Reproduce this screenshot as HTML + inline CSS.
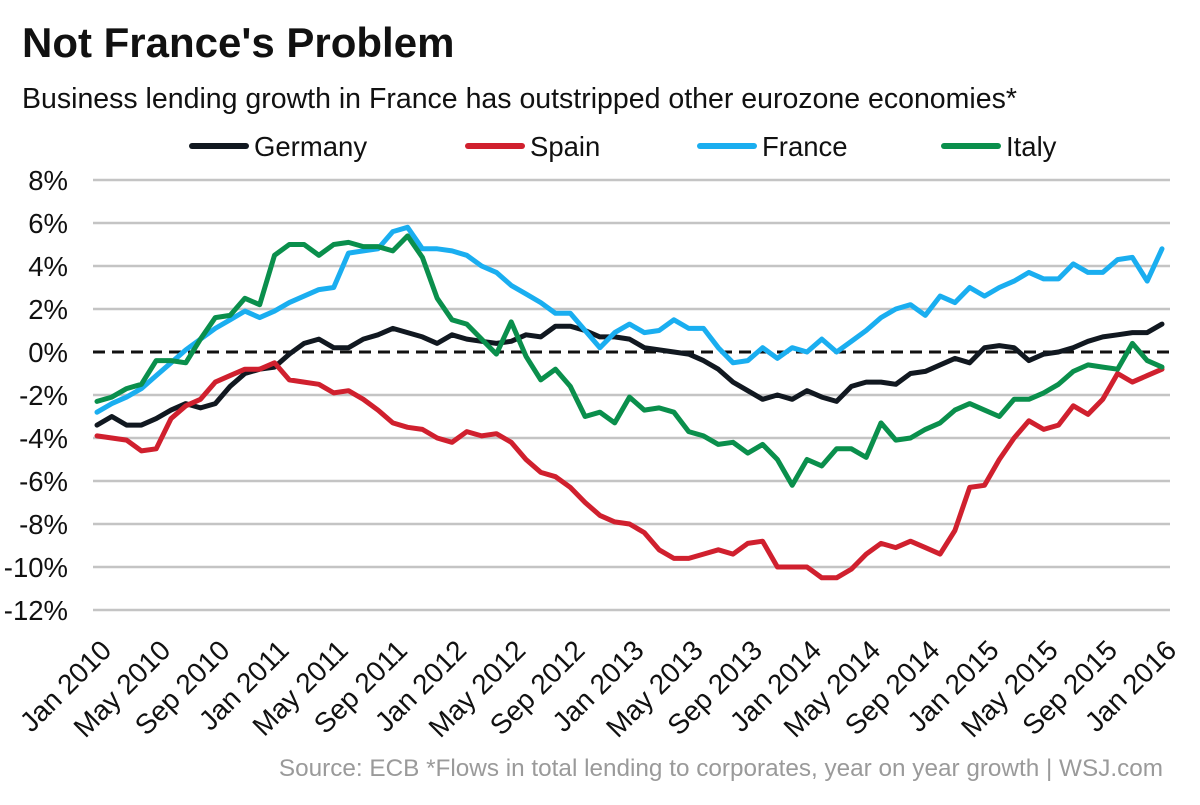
<!DOCTYPE html>
<html><head><meta charset="utf-8"><style>
body{margin:0;background:#fff;font-family:"Liberation Sans",Arial,sans-serif;}
</style></head><body>
<svg width="1200" height="800" xmlns="http://www.w3.org/2000/svg" font-family="Liberation Sans, Arial, sans-serif">
<text x="22" y="57" font-size="42" font-weight="bold" fill="#111">Not France's Problem</text>
<text x="22" y="108" font-size="28.5" fill="#111">Business lending growth in France has outstripped other eurozone economies*</text>
<g id="legend"></g>
<g id="grid"></g>
<g id="yticks"></g>
<g id="xticks"></g>
<g id="lines"></g>
<text x="1163" y="776" font-size="24.3" fill="#9a9a9a" text-anchor="end">Source: ECB *Flows in total lending to corporates, year on year growth  |  WSJ.com</text>
</svg>
<script>
const seriesNames=["Germany","Spain","France","Italy"];
const seriesColors=["#111820","#d0202e","#1aaef0","#0a8f4c"];
const germany=[-3.4,-3.0,-3.4,-3.4,-3.1,-2.7,-2.4,-2.6,-2.4,-1.6,-1.0,-0.8,-0.7,-0.1,0.4,0.6,0.2,0.2,0.6,0.8,1.1,0.9,0.7,0.4,0.8,0.6,
0.5,0.4,0.5,0.8,0.7,1.2,1.2,1.0,0.7,0.7,0.6,0.2,0.1,0.0,-0.1,-0.4,-0.8,-1.4,-1.8,-2.2,-2.0,-2.2,
-1.8,-2.1,-2.3,-1.6,-1.4,-1.4,-1.5,-1.0,-0.9,-0.6,-0.3,-0.5,0.2,0.3,0.2,-0.4,-0.1,0.0,0.2,0.5,0.7,0.8,0.9,0.9,1.3];
const spain=[-3.9,-4.0,-4.1,-4.6,-4.5,-3.1,-2.5,-2.2,-1.4,-1.1,-0.8,-0.8,-0.5,-1.3,-1.4,-1.5,-1.9,-1.8,-2.2,-2.7,-3.3,-3.5,-3.6,-4.0,-4.2,-3.7,
-3.9,-3.8,-4.2,-5.0,-5.6,-5.8,-6.3,-7.0,-7.6,-7.9,-8.0,-8.4,-9.2,-9.6,-9.6,-9.4,-9.2,-9.4,-8.9,-8.8,-10.0,-10.0,
-10.0,-10.5,-10.5,-10.1,-9.4,-8.9,-9.1,-8.8,-9.1,-9.4,-8.3,-6.3,-6.2,-5.0,-4.0,-3.2,-3.6,-3.4,-2.5,-2.9,-2.2,-1.0,-1.4,-1.1,-0.8];
const france=[-2.8,-2.4,-2.1,-1.7,-1.1,-0.5,0.1,0.6,1.1,1.5,1.9,1.6,1.9,2.3,2.6,2.9,3.0,4.6,4.7,4.8,5.6,5.8,4.8,4.8,4.7,4.5,
4.0,3.7,3.1,2.7,2.3,1.8,1.8,1.0,0.2,0.9,1.3,0.9,1.0,1.5,1.1,1.1,0.2,-0.5,-0.4,0.2,-0.3,0.2,
0.0,0.6,0.0,0.5,1.0,1.6,2.0,2.2,1.7,2.6,2.3,3.0,2.6,3.0,3.3,3.7,3.4,3.4,4.1,3.7,3.7,4.3,4.4,3.3,4.8];
const italy=[-2.3,-2.1,-1.7,-1.5,-0.4,-0.4,-0.5,0.6,1.6,1.7,2.5,2.2,4.5,5.0,5.0,4.5,5.0,5.1,4.9,4.9,4.7,5.4,4.4,2.5,1.5,1.3,
0.6,-0.1,1.4,-0.2,-1.3,-0.8,-1.6,-3.0,-2.8,-3.3,-2.1,-2.7,-2.6,-2.8,-3.7,-3.9,-4.3,-4.2,-4.7,-4.3,-5.0,-6.2,
-5.0,-5.3,-4.5,-4.5,-4.9,-3.3,-4.1,-4.0,-3.6,-3.3,-2.7,-2.4,-2.7,-3.0,-2.2,-2.2,-1.9,-1.5,-0.9,-0.6,-0.7,-0.8,0.4,-0.4,-0.7];
const yTicks=[8,6,4,2,0,-2,-4,-6,-8,-10,-12];
const xTickLabels=["Jan 2010","May 2010","Sep 2010","Jan 2011","May 2011","Sep 2011","Jan 2012","May 2012","Sep 2012","Jan 2013","May 2013","Sep 2013","Jan 2014","May 2014","Sep 2014","Jan 2015","May 2015","Sep 2015","Jan 2016"];

const NS="http://www.w3.org/2000/svg";
const X0=97,X1=1162,Y0=352,PPU=21.5;
const nMonths=72;
function xs(i){return X0+(X1-X0)*i/nMonths;}
function ys(v){return Y0-v*PPU;}
function mk(tag,attrs,parent){const e=document.createElementNS(NS,tag);for(const k in attrs)e.setAttribute(k,attrs[k]);parent.appendChild(e);return e;}

const grid=document.getElementById('grid'),yt=document.getElementById('yticks'),xt=document.getElementById('xticks'),lines=document.getElementById('lines'),lg=document.getElementById('legend');
yTicks.forEach(v=>{
  if(v!==0){const l=mk('line',{x1:93,x2:1170,y1:ys(v),y2:ys(v),stroke:'#c4c4c4','stroke-width':2.5},grid);
  
  }
  const t=mk('text',{x:68,y:ys(v)+10,'font-size':27.5,fill:'#111','text-anchor':'end'},yt);
  t.textContent=v+'%';
  
  
});
const zl=mk('line',{x1:93,x2:1170,y1:ys(0),y2:ys(0),stroke:'#111','stroke-width':3,'stroke-dasharray':'12,7'},grid);


xTickLabels.forEach((s,k)=>{
  const x=xs(k*4)+16,y=652;
  const t=mk('text',{x:x,y:y,'font-size':28,fill:'#111','text-anchor':'end',transform:`rotate(-45 ${x} ${y})`},xt);
  t.textContent=s;
  
  
});
const data=[germany,spain,france,italy];
[0,1,2,3].forEach(si=>{
  const d=data[si].map((v,i)=>(i?'L':'M')+xs(i).toFixed(1)+','+ys(v).toFixed(1)).join(' ');
  const p=mk('path',{d:d,fill:'none',stroke:seriesColors[si],'stroke-width':5,'stroke-linejoin':'round','stroke-linecap':'round'},lines);
  
  
});
const legX=[192,468,700,944];
seriesNames.forEach((n,i)=>{
  const l=mk('line',{x1:legX[i],x2:legX[i]+54,y1:146,y2:146,stroke:seriesColors[i],'stroke-width':6,'stroke-linecap':'round'},lg);
  
  
  const t=mk('text',{x:legX[i]+62,y:156,'font-size':27.5,fill:'#111'},lg);
  t.textContent=n;
  
  
});
</script>
</body></html>
